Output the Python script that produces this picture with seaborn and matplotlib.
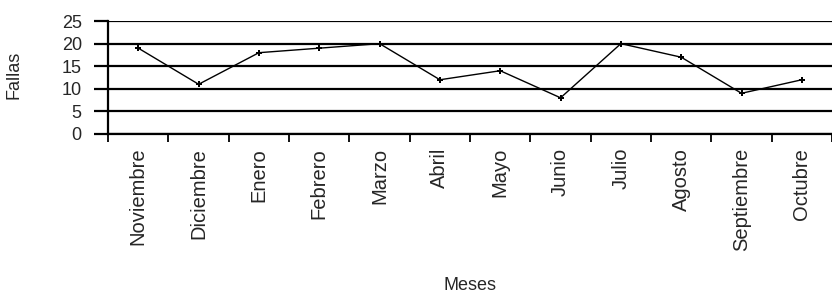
import numpy as np
import matplotlib
matplotlib.use("Agg")
import matplotlib.pyplot as plt
import seaborn as sns
import pandas as pd

meses = ["Noviembre", "Diciembre", "Enero", "Febrero", "Marzo", "Abril",
         "Mayo", "Junio", "Julio", "Agosto", "Septiembre", "Octubre"]
fallas = [19, 11, 18, 19, 20, 12, 14, 8, 20, 17, 9, 12]
y_ticks = [0, 5, 10, 15, 20, 25]

df = pd.DataFrame({"Meses": meses, "Fallas": fallas})

sns.set_style("white")
plt.rcParams["font.family"] = ["Liberation Sans", "DejaVu Sans"]

fig = plt.figure(figsize=(8.32, 2.93), dpi=100)
ax = fig.add_axes([0.130, 0.543, 0.870, 0.385])

sns.lineplot(data=df, x="Meses", y="Fallas", sort=False, color="black",
             linewidth=1, marker="P", markersize=4, markeredgewidth=0, ax=ax)

ax.set_ylim(0, 25)
ax.set_xlim(-0.5, len(meses) - 0.5)
ax.set_yticks(y_ticks)
ax.set_yticklabels([str(v) for v in y_ticks], fontsize=13)
ax.yaxis.grid(True, color="black", linewidth=1.6)
ax.set_axisbelow(True)

# category labels at centres, tick marks between categories
ax.set_xticks(range(len(meses)))
ax.set_xticklabels(meses, rotation=90, fontsize=14.5)
ax.set_xticks(np.arange(-0.5, len(meses)), minor=True)
ax.tick_params(axis="x", which="major", bottom=True, length=0, pad=10)
ax.tick_params(axis="x", which="minor", bottom=True, length=6, width=1.3,
               color="black", direction="out")
ax.tick_params(axis="y", left=True, length=10, width=1.6, color="black",
               direction="out", pad=9)

for side in ["top", "right"]:
    ax.spines[side].set_visible(False)
for side in ["left", "bottom"]:
    ax.spines[side].set_color("black")
    ax.spines[side].set_linewidth(1.6)

ax.set_ylabel("Fallas", fontsize=13)
ax.yaxis.set_label_coords(-0.119, 0.52)
ax.set_xlabel("Meses", fontsize=13)
ax.xaxis.set_label_coords(0.5, -1.265)

fig.savefig("out.png", dpi=100)
